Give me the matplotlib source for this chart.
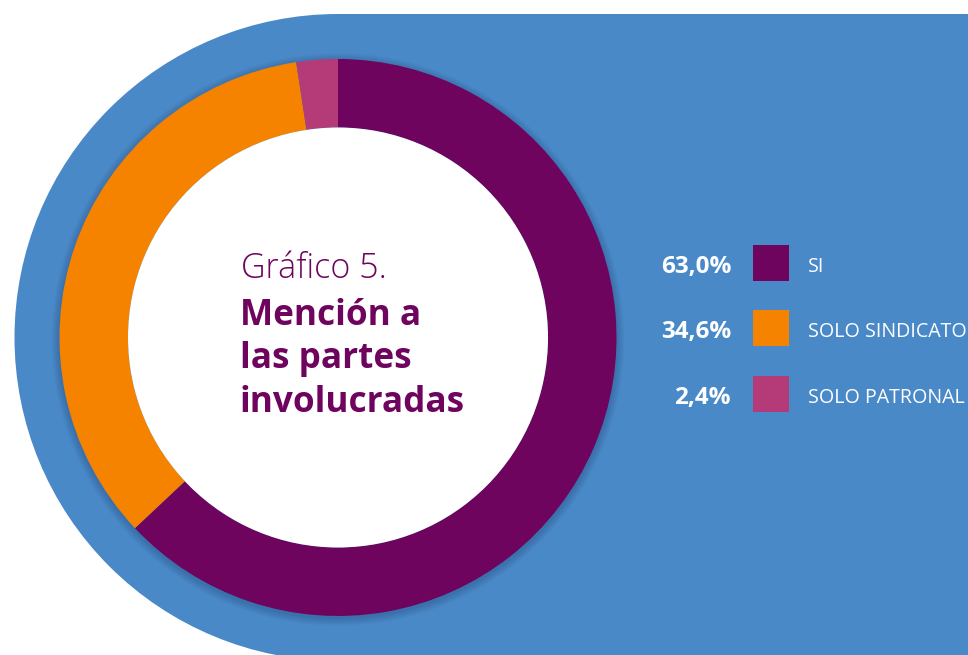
from matplotlib import pyplot as plt
from matplotlib.patches import Circle, Rectangle

categories = ["SI", "SOLO SINDICATO", "SOLO PATRONAL"]
values = [63.0, 34.6, 2.4]
value_labels = ["63,0%", "34,6%", "2,4%"]
colors = ["#6E045E", "#F58300", "#B53B78"]

title_light = "Gráfico 5."
title_bold = "Mención a\nlas partes\ninvolucradas"

BLUE = "#4A89C8"
FONT = "Open Sans"
W, H = 968, 655

fig = plt.figure(figsize=(W / 100, H / 100), dpi=100)
ax = fig.add_axes([0, 0, 1, 1])

cx, cy = 338, H - 337.5
r_out, r_in = 278.5, 210

# blue background: half disc on the left + rectangle to the right
ax.add_patch(Circle((cx, cy), 323.5, color=BLUE, lw=0, zorder=0))
ax.add_patch(Rectangle((cx, -50), W - cx + 10, 641 + 50, color=BLUE, lw=0, zorder=0))

# soft shadow around the donut
for i in range(8):
    ax.add_patch(Circle((cx, cy - 2), r_out + 1 + i, color="#1a3a66", alpha=0.035, lw=0, zorder=1))

ax.pie(values, colors=colors, startangle=90, counterclock=False, center=(cx, cy),
       radius=r_out, wedgeprops=dict(width=r_out - r_in, linewidth=0), normalize=True)
for w in ax.patches[-3:]:
    w.set_zorder(2)
ax.add_patch(Circle((cx, cy), r_in, color="white", lw=0, zorder=3))

ax.text(241, H - 278, title_light, fontsize=24.5, color="#6E045E", family=FONT,
        fontweight="light", ha="left", va="baseline", zorder=4)
ax.text(240, H - 298, title_bold, fontsize=25.3, color="#6E045E", family=FONT,
        fontweight="bold", ha="left", va="top", linespacing=1.27, zorder=4)

row_y = [263, 328, 394]
for lab, name, col, yy in zip(value_labels, categories, colors, row_y):
    ax.text(731, H - yy - 10, lab, fontsize=17.5, color="white", family=FONT, fontweight="bold",
            ha="right", va="baseline", zorder=4)
    ax.add_patch(Rectangle((753, H - yy - 18), 36, 36, color=col, lw=0, zorder=4))
    ax.text(808, H - yy - 9, name, fontsize=14.1, color="white", family=FONT, fontweight="normal",
            ha="left", va="baseline", zorder=4)

ax.set_xlim(0, W)
ax.set_ylim(0, H)
ax.set_aspect("auto")
ax.axis("off")

plt.savefig("out.png", dpi=100, facecolor="white")
